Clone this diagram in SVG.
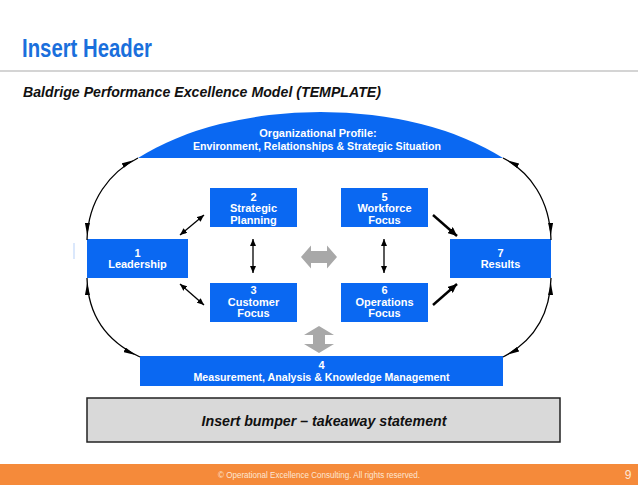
<svg xmlns="http://www.w3.org/2000/svg" width="638" height="493" viewBox="0 0 638 493">
<defs>
<style>
.box{fill:#0a68f2}
.bt{font-family:"Liberation Sans",Arial,sans-serif;font-weight:bold;font-size:11px;fill:#fff;text-anchor:middle}
.conn{fill:none;stroke:#000}
</style>
<marker id="ch" viewBox="0 0 12 5" refX="17" refY="2.5" markerWidth="12" markerHeight="5" markerUnits="userSpaceOnUse" orient="auto-start-reverse"><path d="M0,0 L12,2.5 L0,5 z" fill="#000"/></marker>
<marker id="sh" viewBox="0 0 7 6" refX="7" refY="3" markerWidth="7" markerHeight="6" markerUnits="userSpaceOnUse" orient="auto-start-reverse"><path d="M0,0 L7,3 L0,6 z" fill="#000"/></marker>
<marker id="th" viewBox="0 0 9 8" refX="9" refY="4" markerWidth="9" markerHeight="8" markerUnits="userSpaceOnUse" orient="auto"><path d="M0,0 L9,4 L0,8 z" fill="#000"/></marker>
</defs>
<rect width="638" height="493" fill="#fff"/>
<text x="22" y="57" font-family="'Liberation Sans Narrow','Liberation Sans',Arial,sans-serif" font-weight="bold" font-size="25" fill="#1a6fdc" textLength="130" lengthAdjust="spacingAndGlyphs">Insert Header</text>
<rect x="0" y="70" width="638" height="2" fill="#d4d4d4"/>
<text x="23" y="97" font-family="'Liberation Sans',Arial,sans-serif" font-weight="bold" font-style="italic" font-size="14" fill="#111" textLength="358" lengthAdjust="spacingAndGlyphs">Baldrige Performance Excellence Model (TEMPLATE)</text>

<g id="profile">
<path d="M138,158 A240,131 0 0 1 503,158 Z" class="box"/>
<text class="bt" x="318" y="137" font-size="10">Organizational Profile:</text>
<text class="bt" x="317" y="150" font-size="10" textLength="248" lengthAdjust="spacingAndGlyphs">Environment, Relationships &amp; Strategic Situation</text>
</g>

<g id="leadership">
<rect x="87" y="239" width="101" height="39" class="box"/>
<text class="bt" x="137.5" y="257">1</text>
<text class="bt" x="137.5" y="268">Leadership</text>
</g>
<line x1="74" y1="243" x2="74" y2="259" stroke="#cfe0fb" stroke-width="1.5"/>

<g id="strategic">
<rect x="210" y="188" width="87" height="39" class="box"/>
<text class="bt" x="253.5" y="200.5">2</text>
<text class="bt" x="253.5" y="212">Strategic</text>
<text class="bt" x="253.5" y="223.5">Planning</text>
</g>

<g id="customer">
<rect x="210" y="283" width="87" height="39" class="box"/>
<text class="bt" x="253.5" y="294">3</text>
<text class="bt" x="253.5" y="306">Customer</text>
<text class="bt" x="253.5" y="317">Focus</text>
</g>

<g id="workforce">
<rect x="341" y="188" width="87" height="39" class="box"/>
<text class="bt" x="384.5" y="200.5">5</text>
<text class="bt" x="384.5" y="212">Workforce</text>
<text class="bt" x="384.5" y="223.5">Focus</text>
</g>

<g id="operations">
<rect x="341" y="283" width="87" height="39" class="box"/>
<text class="bt" x="384.5" y="294">6</text>
<text class="bt" x="384.5" y="306">Operations</text>
<text class="bt" x="384.5" y="317">Focus</text>
</g>

<g id="results">
<rect x="450" y="239" width="101" height="39" class="box"/>
<text class="bt" x="500.5" y="257">7</text>
<text class="bt" x="500.5" y="268">Results</text>
</g>

<g id="measurement">
<rect x="140" y="356" width="363" height="30" class="box"/>
<text class="bt" x="321.5" y="369">4</text>
<text class="bt" x="321.5" y="381" textLength="256" lengthAdjust="spacingAndGlyphs">Measurement, Analysis &amp; Knowledge Management</text>
</g>

<g id="connectors">
<path class="conn" stroke-width="1.3" d="M138,158 C110,172 88,200 87,240" marker-start="url(#ch)" marker-end="url(#ch)"/>
<path class="conn" stroke-width="1.3" d="M87,278 C88,318 110,343 140,357" marker-start="url(#ch)" marker-end="url(#ch)"/>
<path class="conn" stroke-width="1.3" d="M503,357 C530,343 550,318 551,278" marker-start="url(#ch)" marker-end="url(#ch)"/>
<path class="conn" stroke-width="1.3" d="M551,240 C550,200 530,172 503,158" marker-start="url(#ch)" marker-end="url(#ch)"/>
<line class="conn" stroke-width="1.3" x1="180" y1="235" x2="204" y2="215" marker-start="url(#sh)" marker-end="url(#sh)"/>
<line class="conn" stroke-width="1.3" x1="180" y1="284" x2="204" y2="305" marker-start="url(#sh)" marker-end="url(#sh)"/>
<line class="conn" stroke-width="1.3" x1="253" y1="239" x2="253" y2="273" marker-start="url(#sh)" marker-end="url(#sh)"/>
<line class="conn" stroke-width="1.3" x1="384" y1="239" x2="384" y2="273" marker-start="url(#sh)" marker-end="url(#sh)"/>
<line class="conn" stroke-width="2.4" x1="433" y1="215" x2="457" y2="236" marker-end="url(#th)"/>
<line class="conn" stroke-width="2.4" x1="433" y1="305" x2="457" y2="284" marker-end="url(#th)"/>
<polygon fill="#a8a8a8" points="301,257 311,245.5 311,251 327,251 327,245.5 337,257 327,268.5 327,263 311,263 311,268.5"/>
<polygon fill="#a8a8a8" points="319,326 334,335 325,335 325,344 334,344 319,353 304,344 313,344 313,335 304,335"/>
</g>

<g id="bumper">
<rect x="87" y="398" width="473" height="44" fill="#d9d9d9" stroke="#222" stroke-width="1.5"/>
<text x="324" y="426" font-family="'Liberation Sans',Arial,sans-serif" font-weight="bold" font-style="italic" font-size="14" fill="#111" text-anchor="middle" textLength="245" lengthAdjust="spacingAndGlyphs">Insert bumper – takeaway statement</text>
</g>

<g id="footer">
<rect x="0" y="464" width="638" height="21" fill="#f58a3a"/>
<text x="319" y="478" font-family="'Liberation Sans',Arial,sans-serif" font-size="8.5" fill="#fde6d4" text-anchor="middle" textLength="202" lengthAdjust="spacingAndGlyphs">© Operational Excellence Consulting.  All rights reserved.</text>
<text x="628" y="479" font-family="'Liberation Sans',Arial,sans-serif" font-size="12" fill="#fde6d4" text-anchor="middle">9</text>
</g>
</svg>
